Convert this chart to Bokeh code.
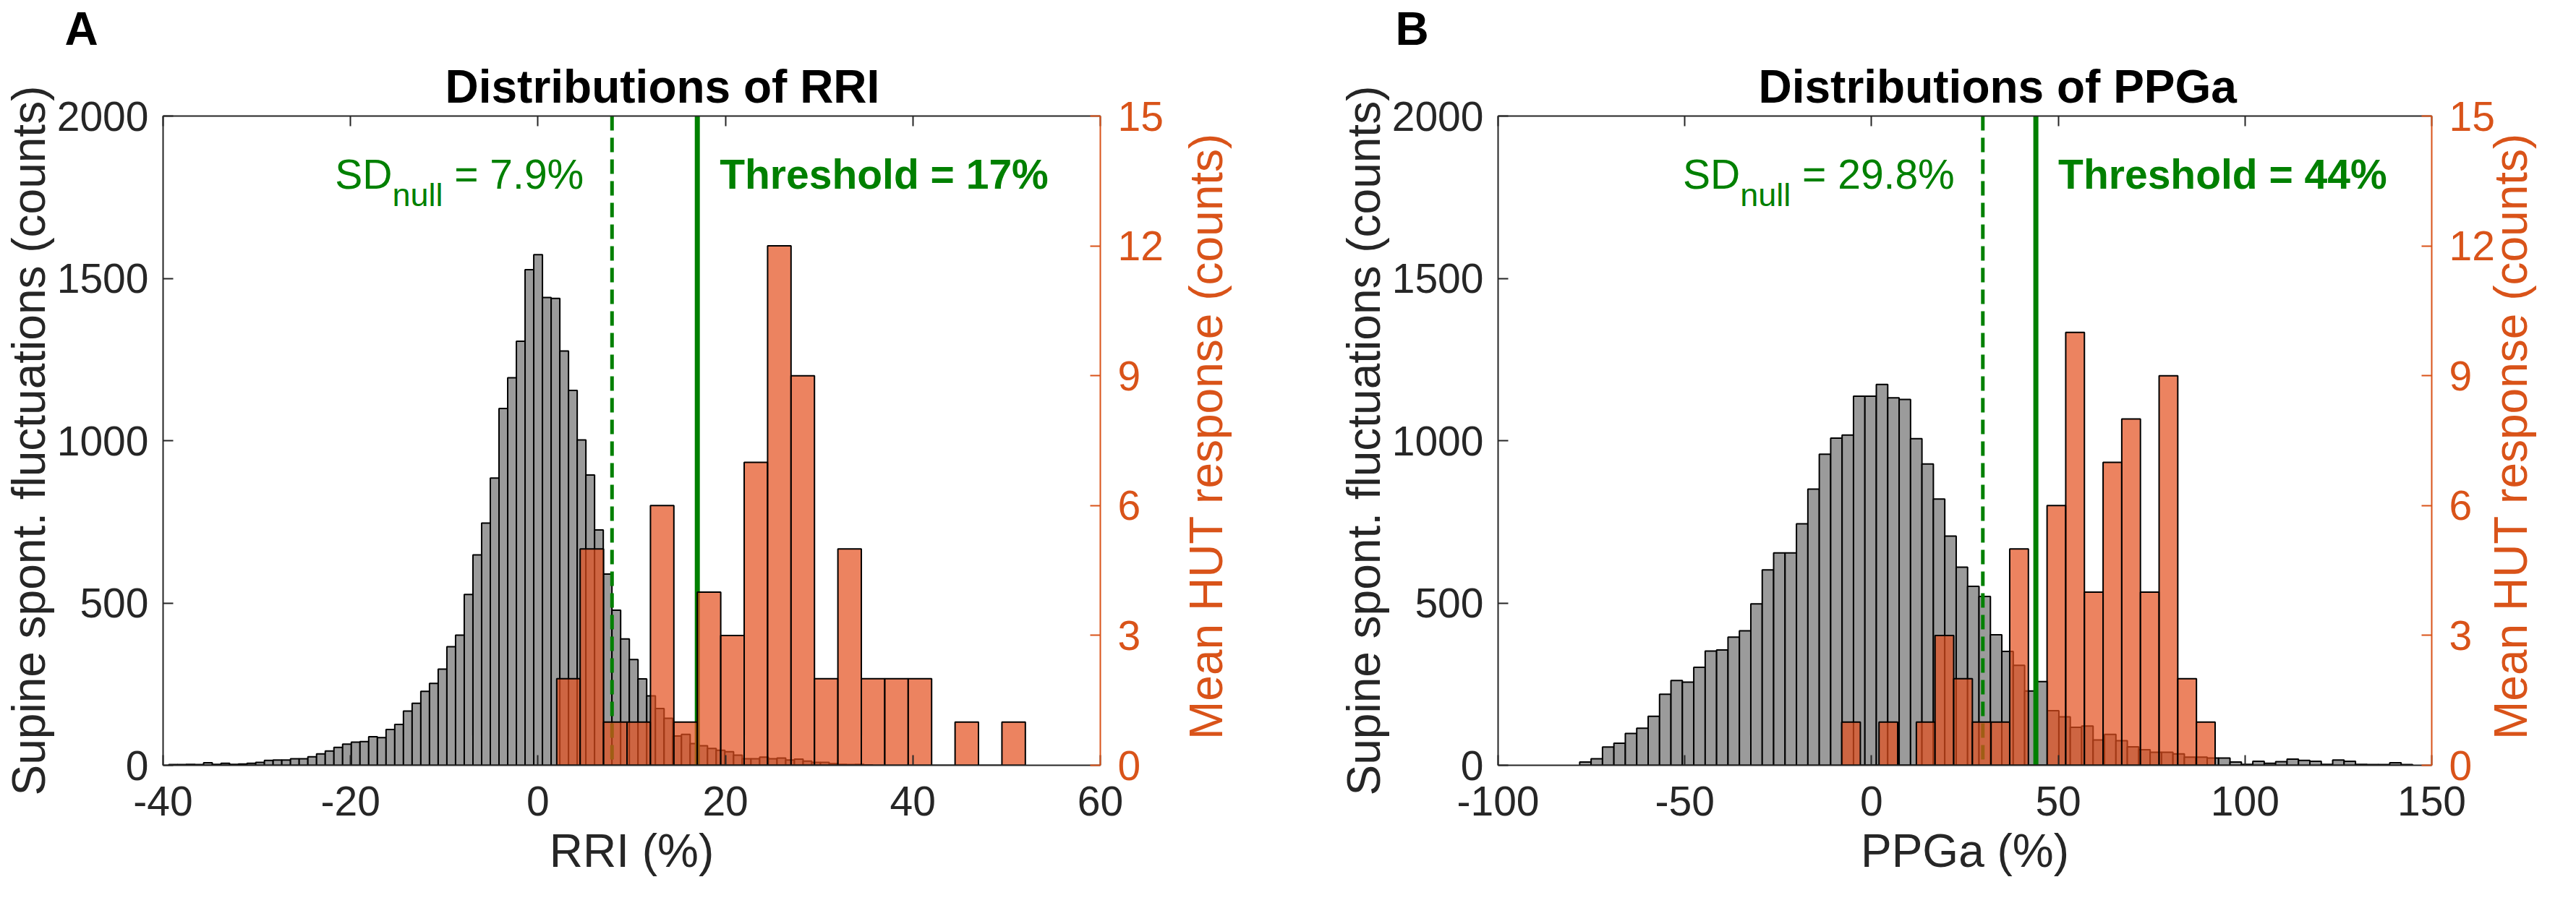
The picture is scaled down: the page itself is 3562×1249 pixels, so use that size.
import math
import numpy as np
from bokeh.plotting import figure
from bokeh.models import Range1d, LinearAxis, FixedTicker, Title
from bokeh.layouts import row
from bokeh.core.properties import value
from bokeh.embed import file_html
from bokeh.resources import INLINE

# ---------------- data ----------------
# Panel A : RRI
rri_null_start = -39.384          # left edge of first supine bin (%)
rri_null_width = 0.927            # supine bin width (%)
rri_null_counts = [2, 2, 3, 2, 8, 3, 6, 3, 4, 6,
                   9, 15, 16, 16, 20, 20, 26, 35, 44, 55,
                   65, 71, 73, 88, 85, 110, 126, 167, 191, 228,
                   252, 296, 365, 401, 526, 648, 746, 885, 1099, 1194,
                   1306, 1527, 1573, 1441, 1438, 1276, 1155, 1002, 894, 725,
                   589, 478, 389, 326, 266, 214, 175, 145, 90, 95,
                   67, 60, 52, 46, 42, 31, 20, 20, 25, 20,
                   22, 16, 19, 13, 9, 9, 5, 3, 2, 3, 1]
rri_hut_start = 2.0
rri_hut_width = 2.5
rri_hut_counts = [2, 5, 1, 1, 6, 1, 4, 3, 7, 12, 9, 2, 5, 2, 2, 2, 0, 1, 0, 1]
rri_sd = 7.9
rri_thr = 17

# Panel B : PPGa
ppga_null_start = -78.15
ppga_null_width = 3.055
ppga_null_counts = [10, 20, 56, 68, 98, 114, 151, 219, 261, 256,
                    302, 352, 355, 395, 414, 497, 602, 654, 654, 744,
                    851, 958, 1008, 1017, 1137, 1137, 1173, 1132, 1127, 1006,
                    928, 820, 706, 610, 551, 520, 402, 351, 308, 229,
                    258, 168, 149, 117, 121, 78, 95, 76, 57, 48,
                    40, 40, 35, 25, 25, 22, 22, 10, 3, 12,
                    6, 11, 19, 15, 12, 3, 16, 12, 3, 2,
                    2, 8, 2]
ppga_hut_start = -8.0
ppga_hut_width = 5.0
ppga_hut_counts = [1, 0, 1, 0, 1, 3, 2, 1, 1, 5, 0, 6, 10, 4, 7, 8, 4, 9, 2, 1]
ppga_sd = 29.8
ppga_thr = 44

left_ticks = [0, 500, 1000, 1500, 2000]
right_ticks = [0, 3, 6, 9, 12, 15]
rri_xticks = [-40, -20, 0, 20, 40, 60]
ppga_xticks = [-100, -50, 0, 50, 100, 150]

# ---------------- style ----------------
FONT = "Liberation Sans"
AX = "#262626"
ORANGE_AX = "#D95319"
ORANGE = "#E44E1C"
GRAY = "#9B9B9B"
GREEN = "#008000"
H = 1233
TOP, BOTTOM = 157, 175
FRAME_H = H - TOP - BOTTOM

ARIAL = {'S': 667, 'D': 722, 'n': 556, 'u': 556, 'l': 222, ' ': 278, '=': 584,
         '.': 278, '%': 889}
for _d in "0123456789":
    ARIAL[_d] = 556


def tw(s, size):
    return sum(ARIAL[c] for c in s) * size / 1000.0


def panel(width, bl, br, xr, xticks, xlabel, title, title_off, letter, letter_dx,
          n_start, n_width, n_counts, h_start, h_width, h_counts, sd, thr, rl_standoff):
    p = figure(width=width, height=H, x_range=Range1d(*xr), y_range=Range1d(0, 2000),
               output_backend="svg", toolbar_location=None, title=None,
               min_border_left=bl, min_border_right=br,
               min_border_top=TOP, min_border_bottom=BOTTOM)
    p.extra_y_ranges = {"hut": Range1d(0, 15)}
    p.outline_line_color = None
    p.grid.visible = False
    p.background_fill_color = "white"
    p.border_fill_color = "white"

    xa = p.xaxis[0]
    xa.ticker = FixedTicker(ticks=xticks)
    xa.axis_label = xlabel
    xa.major_label_overrides = {t: ("-%d" % -t if t < 0 else "%d" % t) for t in xticks}

    ya = p.yaxis[0]
    ya.ticker = FixedTicker(ticks=left_ticks)
    ya.axis_label = "Supine spont. fluctuations (counts)"

    top = LinearAxis(ticker=FixedTicker(ticks=xticks))
    right = LinearAxis(y_range_name="hut", ticker=FixedTicker(ticks=right_ticks))
    p.add_layout(top, "above")
    p.add_layout(right, "right")

    for ax in [xa, ya, top, right]:
        col = ORANGE_AX if ax is right else AX
        ax.axis_line_color = col
        ax.axis_line_width = 2
        ax.major_tick_line_color = col
        ax.major_tick_line_width = 2
        ax.major_tick_in = 14
        ax.major_tick_out = 0
        ax.minor_tick_line_color = None
        ax.major_label_text_font = FONT
        ax.major_label_text_font_size = "57px"
        ax.major_label_text_color = col
        ax.axis_label_text_font = FONT
        ax.axis_label_text_font_size = "64px"
        ax.axis_label_text_font_style = "normal"
        ax.axis_label_text_color = col
    xa.major_label_standoff = 29
    xa.axis_label_standoff = 10
    ya.major_label_standoff = 20
    ya.axis_label_standoff = 0
    right.major_label_standoff = 24
    right.axis_label_standoff = rl_standoff
    # right label reads bottom-to-top (as in the reference): rotate it and
    # anchor its start near the bottom of the axis
    props = right.properties()
    if "axis_label_orientation" in props and "axis_label_align" in props:
        right.axis_label = "\u00a0\u00a0Mean HUT response (counts)"
        right.axis_label_orientation = math.pi / 2
        right.axis_label_align = "start"
    else:
        right.axis_label = "Mean HUT response (counts)"
    # top axis: ticks only
    top.major_label_text_font_size = "1px"
    top.major_label_text_color = None
    top.major_label_standoff = 0

    # titles (main title closest to the frame, panel letter above it)
    p.add_layout(Title(text=title, align="left", offset=title_off, standoff=10,
                       text_font=FONT, text_font_size="64px", text_font_style="bold",
                       text_color="black"), "above")
    p.add_layout(Title(text=letter, align="left", offset=letter_dx, standoff=2,
                       text_font=FONT, text_font_size="64px", text_font_style="bold",
                       text_color="black"), "above")

    # supine histogram
    n_left = n_start + n_width * np.arange(len(n_counts))
    p.quad(left=n_left, right=n_left + n_width, bottom=0, top=n_counts,
           fill_color=GRAY, line_color="black", line_width=2)

    # SD and threshold lines
    p.segment(x0=[sd], y0=[2000], x1=[sd], y1=[0], line_color=GREEN,
              line_width=5, line_dash="20 10")
    p.segment(x0=[thr], y0=[2000], x1=[thr], y1=[0], line_color=GREEN,
              line_width=7)

    # HUT histogram on the right axis
    h_left = h_start + h_width * np.arange(len(h_counts))
    p.quad(left=h_left, right=h_left + h_width, bottom=0, top=h_counts,
           y_range_name="hut", fill_color=ORANGE, fill_alpha=0.7,
           line_color="black", line_width=2)

    # annotations
    per_px = 2000.0 / FRAME_H
    y_base = 2000 - 81 * per_px
    y_sub = y_base - 28.5 * per_px
    rest = "= %.1f%%" % sd
    w1 = tw("SD", 57)
    w2 = tw("null", 45)
    w3 = tw(" " + rest, 57)
    off0 = -39 - (w1 + w2 + w3)
    common = dict(text_font=value(FONT), text_color=GREEN, text_baseline="alphabetic",
                  text_align="left")
    p.text(x=[sd], y=[y_base], text=["SD"], x_offset=off0, text_font_size="57px", **common)
    p.text(x=[sd], y=[y_sub], text=["null"], x_offset=off0 + w1, text_font_size="45px", **common)
    p.text(x=[sd], y=[y_base], text=[rest], x_offset=off0 + w1 + w2 + tw(" ", 57),
           text_font_size="57px", **common)
    p.text(x=[thr], y=[y_base], text=["Threshold = %d%%" % thr], x_offset=31,
           text_font_size="57px", text_font_style="bold", **common)
    return p


pA = panel(1800, 222, 279, (-40, 60), rri_xticks, "RRI (%)", "Distributions of RRI", 390,
           "A", -136, rri_null_start, rri_null_width, rri_null_counts,
           rri_hut_start, rri_hut_width, rri_hut_counts, rri_sd, rri_thr, 56)
pB = panel(1746, 271, 178, (-100, 150), ppga_xticks, "PPGa (%)", "Distributions of PPGa", 360,
           "B", -142, ppga_null_start, ppga_null_width, ppga_null_counts,
           ppga_hut_start, ppga_hut_width, ppga_hut_counts, ppga_sd, ppga_thr, 19)

layout = row(pA, pB)
open("out.html", "w").write(file_html(layout, INLINE))
